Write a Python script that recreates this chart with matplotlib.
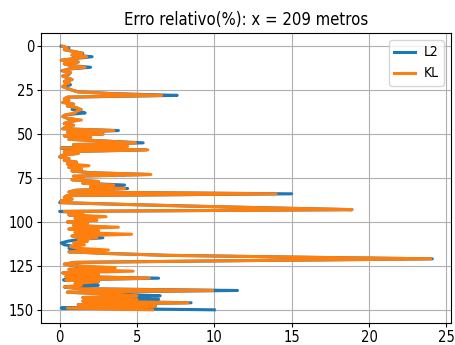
import matplotlib
matplotlib.use("Agg")
import matplotlib.pyplot as plt
from matplotlib import font_manager as fm
import numpy as np

# Relative error (%) per depth sample along the section at x = 209 m
erro_l2 = [
    0.1, 0.6, 0.3, 0.9, 1.5, 0.8, 2.1, 1.0, 0.1, 1.2,
    0.3, 0.7, 2.0, 0.6, 0.15, 0.7, 0.6, 0.2, 0.5, 0.8,
    0.3, 0.6, 0.7, 0.2, 0.5, 0.8, 1.2, 3.5, 7.6, 0.5,
    0.3, 0.6, 0.2, 0.9, 0.5, 1.1, 0.8, 1.3, 1.65, 0.4,
    0.2, 0.5, 1.2, 0.6, 0.3, 0.9, 0.4, 0.2, 3.8, 0.5,
    2.8, 0.3, 2.0, 0.6, 3.0, 5.4, 0.9, 3.6, 0.1, 5.6,
    0.3, 1.2, 0.2, 0.0, 0.6, 0.3, 1.1, 0.5, 1.1, 0.6,
    1.4, 0.8, 2.0, 5.8, 0.9, 1.5, 0.8, 2.5, 1.5, 4.2,
    2.0, 4.4, 1.0, 0.6, 15.0, 0.5, 0.3, 0.8, 0.1, 0.0,
    4.0, 8.5, 13.5, 18.9, 0.0, 1.5, 0.6, 2.3, 1.0, 2.4,
    0.5, 1.8, 0.9, 3.0, 0.6, 2.5, 1.0, 3.0, 0.8, 2.8,
    1.2, 0.5, 0.1, 0.3, 1.0, 0.6, 2.0, 0.6, 3.3, 7.0,
    15.0, 24.1, 12.0, 1.0, 0.3, 1.2, 2.0, 0.6, 3.0, 0.2,
    2.5, 0.4, 6.4, 0.25, 2.5, 1.0, 2.5, 0.3, 1.3, 11.5,
    0.5, 3.2, 6.5, 1.5, 6.4, 1.5, 8.5, 1.2, 6.2, 0.1,
    10.0,
]

erro_kl = [
    0.2, 0.5, 0.3, 0.9, 1.45, 0.8, 1.75, 1.0, 0.1, 1.2,
    0.3, 0.7, 1.65, 0.6, 0.2, 0.7, 0.5, 0.2, 0.5, 0.8,
    0.3, 0.6, 0.3, 0.2, 0.5, 0.8, 1.2, 3.3, 6.6, 0.5,
    0.3, 0.6, 0.2, 0.9, 0.5, 1.1, 1.4, 1.1, 1.0, 0.4,
    0.2, 0.5, 1.4, 0.6, 0.3, 0.9, 0.4, 0.2, 3.5, 0.5,
    2.8, 0.3, 2.0, 0.6, 3.0, 4.9, 0.9, 4.4, 0.1, 5.7,
    0.3, 1.2, 0.2, 0.0, 0.6, 0.3, 1.1, 0.5, 1.9, 0.6,
    1.4, 0.8, 2.0, 5.9, 0.9, 1.5, 0.8, 2.5, 1.5, 3.5,
    2.0, 4.2, 1.0, 0.6, 14.0, 0.5, 0.3, 0.8, 0.1, 0.1,
    4.0, 8.5, 13.5, 18.9, 0.3, 1.5, 0.6, 3.0, 1.0, 2.4,
    0.5, 1.8, 0.9, 3.8, 0.6, 2.5, 1.0, 4.65, 0.8, 2.4,
    1.2, 1.8, 0.9, 1.6, 0.7, 1.2, 3.15, 0.6, 3.3, 7.0,
    15.0, 24.0, 12.0, 1.0, 0.3, 1.2, 3.6, 0.6, 4.75, 0.2,
    2.5, 0.4, 5.8, 0.4, 2.5, 1.0, 1.4, 0.3, 1.3, 9.9,
    0.5, 3.2, 5.0, 1.5, 5.0, 1.5, 8.3, 1.2, 6.2, 0.5,
    6.0,
]

profundidade = np.arange(len(erro_l2))


def narrow_font():
    """Return the path of an installed condensed sans face, if any."""
    found = []
    for f in fm.fontManager.ttflist:
        narrow = (str(f.stretch) in ("condensed", "semi-condensed", "extra-condensed")
                  or "Condensed" in f.name or "Narrow" in f.name
                  or "Condensed" in f.fname or "Narrow" in f.fname)
        regular = f.style == "normal" and f.weight in (400, "normal", "regular")
        if narrow and regular and "Mono" not in f.name and "Serif" not in f.name:
            found.append(f)
    found.sort(key=lambda f: 0 if "DejaVu" in f.name else 1)
    return found[0].fname if found else None


path = narrow_font()
if path:
    fp = lambda size: fm.FontProperties(fname=path, size=size)
    sizes = dict(title=12, tick=10.5, legend=10)
else:
    fp = lambda size: fm.FontProperties(family="DejaVu Sans", size=size)
    sizes = dict(title=11, tick=9.5, legend=9)

fig = plt.figure(figsize=(4.55, 3.45), dpi=100)
ax = fig.add_axes([41 / 455, 22 / 345, 410 / 455, 290 / 345])

ax.plot(erro_l2, profundidade, color="#1f77b4", lw=2.2, label="L2")
ax.plot(erro_kl, profundidade, color="#ff7f0e", lw=2.2, label="KL")

ax.invert_yaxis()
ax.set_xticks([0, 5, 10, 15, 20, 25])
ax.set_yticks([0, 25, 50, 75, 100, 125, 150])
ax.grid(True, color="#b0b0b0", lw=0.8)
ax.tick_params(length=3, pad=2)
for lab in ax.get_xticklabels() + ax.get_yticklabels():
    lab.set_fontproperties(fp(sizes["tick"]))
ax.set_title("Erro relativo(%): x = 209 metros", fontproperties=fp(sizes["title"]), pad=6)
ax.legend(loc="upper right", prop=fp(sizes["legend"]), handlelength=1.5,
          handletextpad=0.6, borderaxespad=0.5)

fig.savefig("out.png", dpi=100)
